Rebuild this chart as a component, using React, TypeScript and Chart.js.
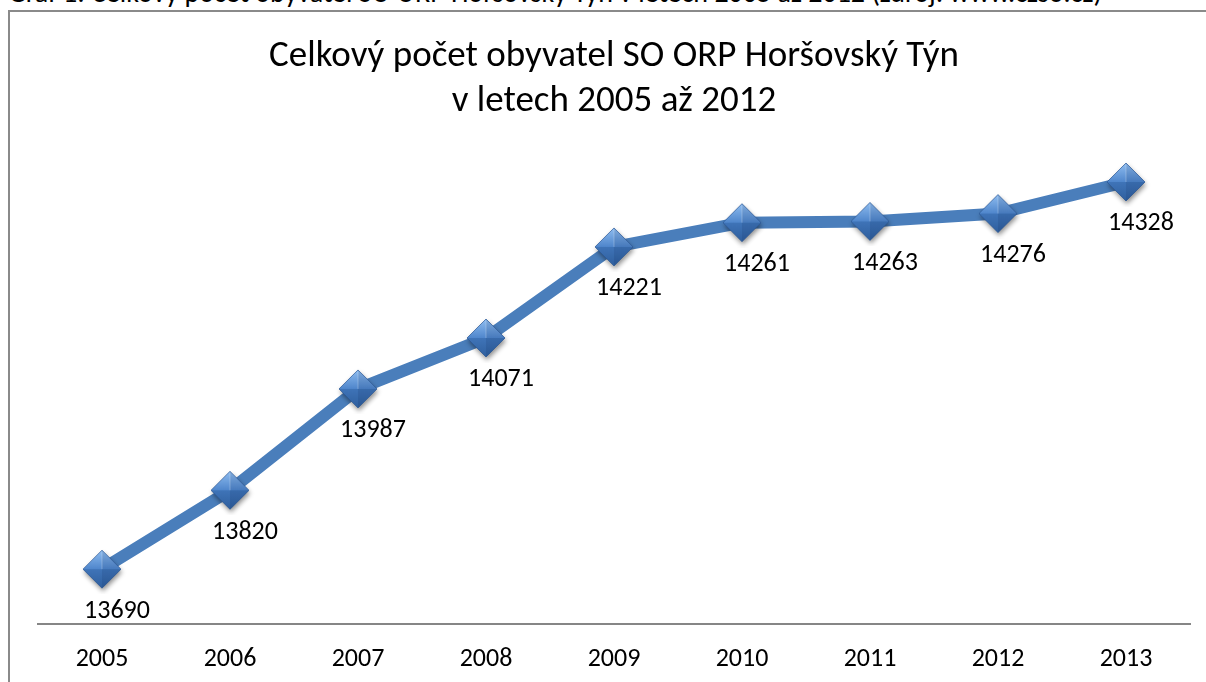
import React, { useEffect, useRef } from "react";
import { Chart, registerables } from "chart.js";

Chart.register(...registerables);

const years = ["2005", "2006", "2007", "2008", "2009", "2010", "2011", "2012", "2013"];
const population = [13690, 13820, 13987, 14071, 14221, 14261, 14263, 14276, 14328];
const titleLines = ["Celkový počet obyvatel SO ORP Horšovský Týn", "v letech 2005 až 2012"];
const captionText =
  "Graf 1: Celkový počet obyvatel SO ORP Horšovský Týn v letech 2005 až 2012 (zdroj: www.czso.cz)";

const FONT = "Carlito, Calibri, Lato, 'Open Sans', sans-serif";

function makeMarker(): HTMLCanvasElement {
  const size = 50;
  const c = document.createElement("canvas");
  c.width = size;
  c.height = size;
  const ctx = c.getContext("2d")!;
  const cx = 25, cy = 25, r = 19;
  ctx.save();
  ctx.shadowColor = "rgba(0,0,0,0.45)";
  ctx.shadowBlur = 5;
  ctx.shadowOffsetX = 1;
  ctx.shadowOffsetY = 3;
  ctx.beginPath();
  ctx.moveTo(cx - r, cy);
  ctx.lineTo(cx, cy - r);
  ctx.lineTo(cx + r, cy);
  ctx.lineTo(cx, cy + r);
  ctx.closePath();
  ctx.fillStyle = "#3f70b0";
  ctx.fill();
  ctx.restore();
  let g = ctx.createLinearGradient(0, cy - r, 0, cy);
  g.addColorStop(0, "#8fbdf0");
  g.addColorStop(1, "#4f86cc");
  ctx.beginPath();
  ctx.moveTo(cx - r, cy);
  ctx.lineTo(cx, cy - r);
  ctx.lineTo(cx + r, cy);
  ctx.closePath();
  ctx.fillStyle = g;
  ctx.fill();
  g = ctx.createLinearGradient(0, cy, 0, cy + r);
  g.addColorStop(0, "#3f74b8");
  g.addColorStop(1, "#2f5f9e");
  ctx.beginPath();
  ctx.moveTo(cx - r, cy);
  ctx.lineTo(cx + r, cy);
  ctx.lineTo(cx, cy + r);
  ctx.closePath();
  ctx.fillStyle = g;
  ctx.fill();
  ctx.beginPath();
  ctx.moveTo(cx, cy - r);
  ctx.lineTo(cx + r, cy);
  ctx.lineTo(cx, cy + r);
  ctx.closePath();
  ctx.fillStyle = "rgba(0,20,60,0.10)";
  ctx.fill();
  ctx.beginPath();
  ctx.moveTo(cx, cy - r + 2);
  ctx.lineTo(cx, cy);
  ctx.strokeStyle = "rgba(255,255,255,0.25)";
  ctx.lineWidth = 1;
  ctx.stroke();
  ctx.beginPath();
  ctx.moveTo(cx - r, cy);
  ctx.lineTo(cx, cy - r);
  ctx.lineTo(cx + r, cy);
  ctx.lineTo(cx, cy + r);
  ctx.closePath();
  ctx.strokeStyle = "rgba(40,80,140,0.7)";
  ctx.lineWidth = 0.8;
  ctx.stroke();
  return c;
}

const valueLabels = {
  id: "valueLabels",
  afterDatasetsDraw(chart: any) {
    const ctx = chart.ctx;
    const meta = chart.getDatasetMeta(0);
    const data = chart.data.datasets[0].data as number[];
    ctx.save();
    ctx.font = `26px ${FONT}`;
    ctx.fillStyle = "#000";
    ctx.textAlign = "center";
    ctx.textBaseline = "middle";
    meta.data.forEach((pt: any, i: number) => {
      ctx.fillText(String(data[i]), pt.x + 15, pt.y + 42);
    });
    ctx.restore();
  },
};

export default function App() {
  const ref = useRef<HTMLCanvasElement>(null);
  useEffect(() => {
    if (!ref.current) return;
    const marker = makeMarker();
    const chart = new Chart(ref.current, {
      type: "line",
      data: {
        labels: years,
        datasets: [
          {
            data: population,
            borderColor: "#4a7ebb",
            borderWidth: 12,
            borderJoinStyle: "round",
            pointStyle: marker as any,
            pointRadius: 19,
            fill: false,
            tension: 0,
          },
        ],
      },
      options: {
        responsive: false,
        animation: false,
        layout: { autoPadding: false, padding: { left: 38, right: 16, top: 34, bottom: -13 } },
        plugins: {
          legend: { display: false },
          tooltip: { enabled: false },
          title: {
            display: true,
            text: titleLines,
            color: "#000",
            font: { family: FONT, size: 37, weight: "normal", lineHeight: 1.22 },
            padding: { top: 0, bottom: 14 },
          },
        },
        scales: {
          x: {
            offset: true,
            grid: { display: false, drawTicks: false },
            border: { display: true, color: "#868686", width: 2 },
            ticks: { color: "#000", font: { family: FONT, size: 26 }, padding: 20 },
          },
          y: { display: false, min: 13600, max: 14400 },
        },
      },
      plugins: [valueLabels],
    });
    return () => chart.destroy();
  }, []);

  return (
    <div style={{ position: "fixed", left: 0, top: 0, width: 1206, height: 682, overflow: "hidden", background: "#fff" }}>
      <div
        style={{
          position: "absolute",
          left: 8,
          top: -24,
          whiteSpace: "nowrap",
          fontFamily: FONT,
          fontSize: 28,
          lineHeight: "34px",
          color: "#000",
        }}
      >
        {captionText}
      </div>
      <div
        style={{
          position: "absolute",
          left: 8,
          top: 10,
          width: 1300,
          height: 800,
          border: "2px solid #8a8a8a",
          boxSizing: "border-box",
        }}
      />
      <canvas ref={ref} width={1206} height={682} style={{ position: "absolute", left: 0, top: 0 }} />
    </div>
  );
}
